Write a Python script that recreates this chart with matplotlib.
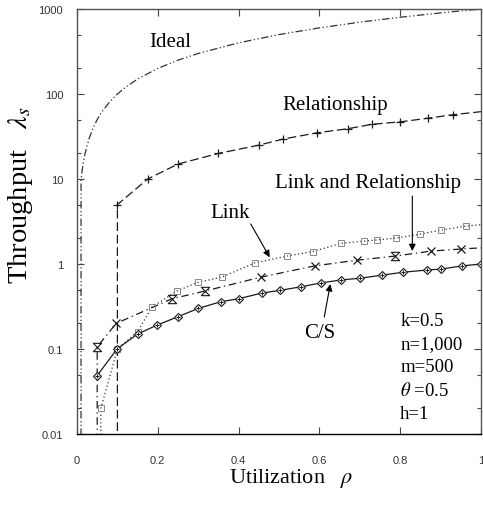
import numpy as np
import matplotlib
matplotlib.use('Agg')
from matplotlib import pyplot as plt
from matplotlib.path import Path
from matplotlib.ticker import FixedLocator, FixedFormatter, LogLocator, NullFormatter

# utilization (rho) and throughput for each scheme; 0.001 stands for "nothing" below the axis
rho_ideal = [0.01, 0.01, 0.015, 0.02, 0.03, 0.04, 0.05, 0.06, 0.08, 0.1, 0.12, 0.15,
             0.2, 0.25, 0.3, 0.4, 0.5, 0.6, 0.7, 0.8, 0.9, 1.0]
thr_ideal = [0.001, 10, 15, 20, 30, 40, 50, 60, 80, 100, 120, 150,
             200, 250, 300, 400, 500, 600, 700, 800, 900, 1000]

rho_rel = [0.1, 0.1, 0.175, 0.25, 0.35, 0.45, 0.51, 0.595, 0.67, 0.73, 0.8, 0.87, 0.93, 1.0]
thr_rel = [0.001, 5, 10, 15, 20, 25, 29.5, 35, 39, 44, 47, 52, 57, 62]

rho_lr = [0.05, 0.05, 0.097, 0.235, 0.316, 0.455, 0.588, 0.694, 0.788, 0.877, 0.95, 1.0]
thr_lr = [0.001, 0.106, 0.2, 0.39, 0.48, 0.70, 0.95, 1.11, 1.24, 1.42, 1.5, 1.55]

rho_link = [0.059, 0.059, 0.1, 0.15, 0.185, 0.247, 0.30, 0.358, 0.44, 0.52, 0.583,
            0.654, 0.71, 0.743, 0.79, 0.85, 0.90, 0.963, 1.0]
thr_link = [0.001, 0.02, 0.1, 0.16, 0.31, 0.48, 0.61, 0.70, 1.03, 1.24, 1.40,
            1.75, 1.86, 1.92, 2.02, 2.25, 2.5, 2.8, 2.9]

rho_cs = [0.049, 0.099, 0.15, 0.197, 0.25, 0.30, 0.356, 0.40, 0.457, 0.503, 0.555,
          0.605, 0.654, 0.70, 0.756, 0.807, 0.867, 0.90, 0.953, 1.0]
thr_cs = [0.048, 0.1, 0.15, 0.19, 0.24, 0.30, 0.36, 0.39, 0.455, 0.49, 0.54,
          0.60, 0.65, 0.68, 0.74, 0.80, 0.85, 0.87, 0.95, 1.0]

params = ['k=0.5', 'n=1,000', 'm=500', r'$\theta$ =0.5', 'h=1']

x_ticks = [0, 0.2, 0.4, 0.6, 0.8, 1]
x_labels = ['0', '0.2', '0.4', '0.6', '0.8', '1']
y_ticks = [0.01, 0.1, 1, 10, 100, 1000]
y_labels = ['0.01', '0.1', '1', '10', '100', '1000']

plt.rcParams['mathtext.fontset'] = 'stix'
serif = 'Liberation Serif'
line_c = '#1a1a1a'

# hourglass marker: an x with caps top and bottom
hourglass = Path([(-1, 1), (1, 1), (-1, -1), (1, -1), (-1, 1)],
                 [Path.MOVETO, Path.LINETO, Path.LINETO, Path.LINETO, Path.CLOSEPOLY])
hg_idx = [1, 3, 4, 8]
x_idx = [2, 5, 6, 7, 9, 10]

fig = plt.figure(figsize=(4.83, 5.06), dpi=100)
ax = fig.add_axes([77 / 483, 1 - 435 / 506, 404 / 483, 425 / 506])
ax.set_yscale('log')

ax.plot(rho_ideal, thr_ideal, color='#333333', lw=0.9, dashes=(6, 2, 1, 2, 1, 2))

ax.plot(rho_rel, thr_rel, color=line_c, lw=0.9, dashes=(7, 3),
        marker='+', ms=6, mew=0.9, markevery=list(range(1, len(rho_rel) - 1)))

ax.plot(rho_lr, thr_lr, color=line_c, lw=0.9, dashes=(6, 3, 1, 3))
ax.plot([rho_lr[i] for i in x_idx], [thr_lr[i] for i in x_idx], ls='none',
        marker='x', ms=5.5, mew=0.9, color=line_c)
ax.plot([rho_lr[i] for i in hg_idx], [thr_lr[i] for i in hg_idx], ls='none',
        marker=hourglass, ms=6, mew=0.8, mfc='none', color=line_c)

ax.plot(rho_link, thr_link, color='#333333', lw=0.9, dashes=(1, 2),
        marker='s', ms=4.5, mew=0.7, mfc='none', mec='#888888',
        markevery=list(range(1, len(rho_link) - 1)))

ax.plot(rho_cs, thr_cs, color=line_c, lw=0.9, marker='D', ms=4.5, mew=0.8, mfc='white')
ax.plot(rho_cs, thr_cs, ls='none', marker='+', ms=3.5, mew=0.7, color=line_c)

ax.set_xlim(0, 1)
ax.set_ylim(0.01, 1000)

ax.xaxis.set_major_locator(FixedLocator(x_ticks))
ax.xaxis.set_major_formatter(FixedFormatter(x_labels))
ax.yaxis.set_major_locator(FixedLocator(y_ticks))
ax.yaxis.set_major_formatter(FixedFormatter(y_labels))
ax.yaxis.set_minor_locator(LogLocator(base=10, subs=(2, 5)))
ax.yaxis.set_minor_formatter(NullFormatter())

ax.tick_params(which='both', direction='in', top=True, right=True, color='#444444')
ax.tick_params(which='major', length=5, width=0.8)
ax.tick_params(which='minor', length=3, width=0.8)
ax.tick_params(axis='x', pad=15, labelsize=8, labelcolor='#333333')
ax.tick_params(axis='y', pad=10, labelsize=8, labelcolor='#333333')
for lab in ax.get_xticklabels() + ax.get_yticklabels():
    lab.set_fontfamily('Liberation Sans')

for side in ('left', 'top', 'right'):
    ax.spines[side].set_color('#555555')
ax.spines['bottom'].set_color('black')
for sp in ax.spines.values():
    sp.set_linewidth(1.0)

ax.set_xlabel(r'Utilization   $\rho$', fontsize=16, family=serif)
ax.xaxis.set_label_coords(0.53, -0.075)
ax.set_ylabel(r'Throughput   $\lambda_s$', fontsize=20.5, family=serif)
ax.yaxis.set_label_coords(-0.105, 0.565)

ax.text(0.23, 410, 'Ideal', fontsize=15, family=serif, ha='center', va='center')
ax.text(0.64, 76, 'Relationship', fontsize=15, family=serif, ha='center', va='center')
ax.text(0.72, 9.2, 'Link and Relationship', fontsize=15, family=serif, ha='center', va='center')
ax.text(0.38, 4.0, 'Link', fontsize=15, family=serif, ha='center', va='center')
ax.text(0.6, 0.158, 'C/S', fontsize=15, family=serif, ha='center', va='center')

arrow = dict(arrowstyle='-|>', color='black', lw=0.8, mutation_scale=10, shrinkA=0, shrinkB=0)
ax.annotate('', xy=(0.477, 1.2), xytext=(0.43, 2.96), arrowprops=arrow)
ax.annotate('', xy=(0.83, 1.42), xytext=(0.83, 6.3), arrowprops=arrow)
ax.annotate('', xy=(0.627, 0.58), xytext=(0.612, 0.238), arrowprops=arrow)

ax.text(0.80, 0.27, '\n'.join(params), fontsize=13.5, family=serif,
        ha='left', va='top', linespacing=1.45)

fig.savefig('out.png', dpi=100)
